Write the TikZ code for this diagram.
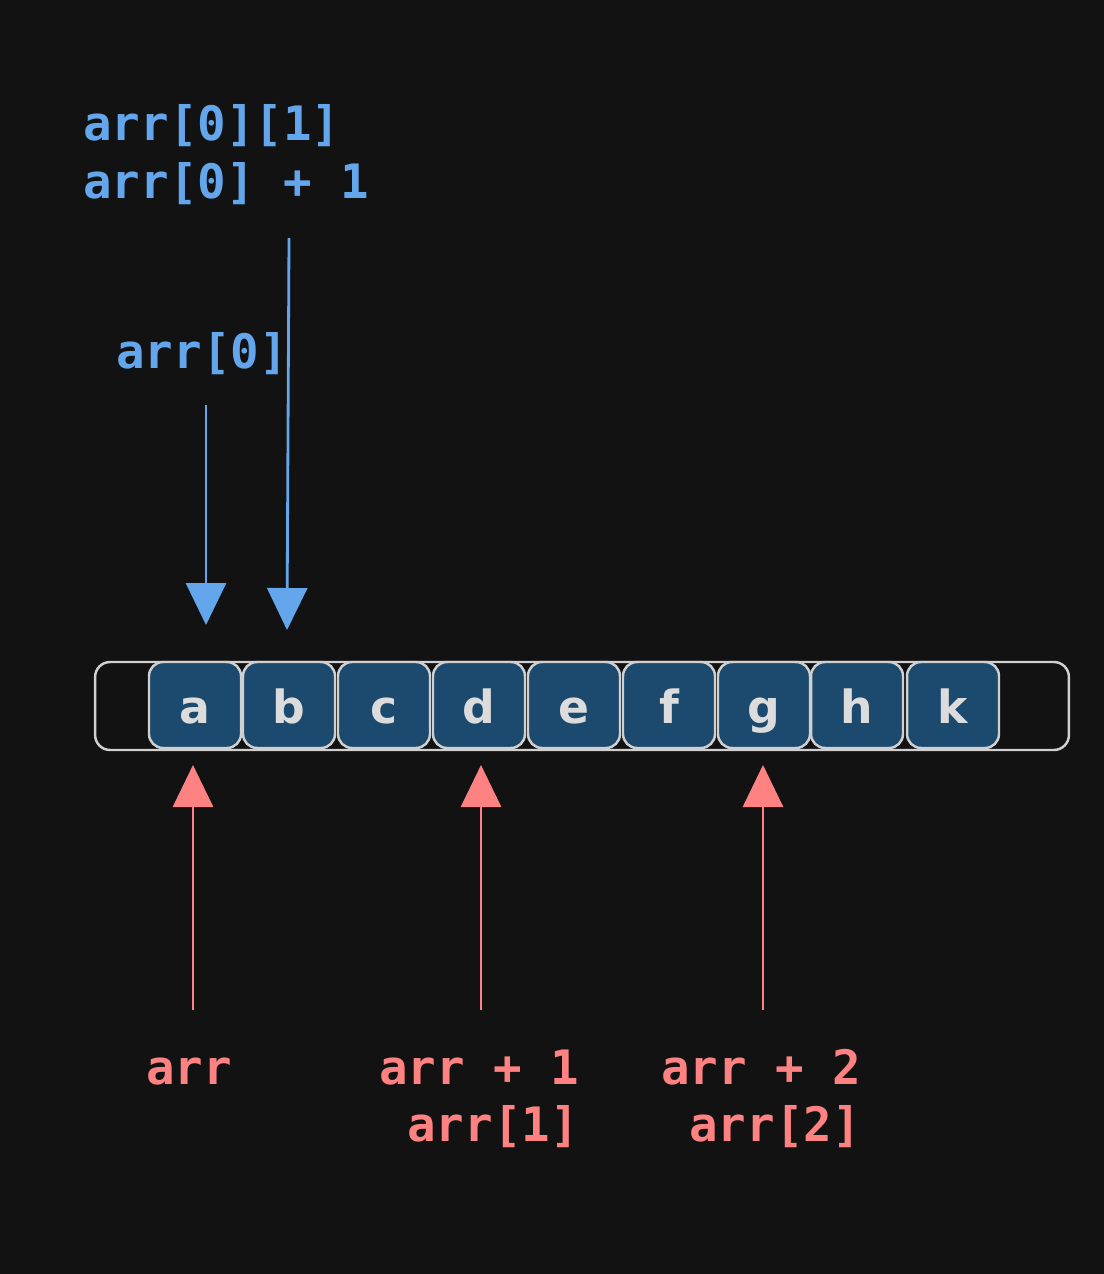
\documentclass[tikz,border=0pt]{standalone}
\usepackage{fontspec}
\setmonofont{DejaVu Sans Mono}
\newfontfamily\cellfont{DejaVu Sans}
\usepackage{tikz}
\usetikzlibrary{arrows.meta}

\definecolor{bgc}{RGB}{18,18,18}
\definecolor{ptrblue}{RGB}{100,166,236}
\definecolor{ptrred}{RGB}{255,130,130}
\definecolor{cellfill}{RGB}{27,74,110}
\definecolor{cellline}{RGB}{208,208,208}
\definecolor{celltext}{RGB}{220,220,220}

\tikzset{
  cell/.style={draw=cellline, line width=1.4pt, fill=cellfill, rounded corners=0.28cm,
    minimum width=1.84cm, minimum height=1.72cm, inner sep=0pt,
    text height=0.72cm, text depth=0cm,
    text=celltext, font=\cellfont\bfseries\fontsize{26}{26}\selectfont},
  strip/.style={draw=cellline, line width=1.4pt, rounded corners=0.3cm,
    minimum width=19.48cm, minimum height=1.76cm, inner sep=0pt},
  code/.style={inner sep=0pt, font=\ttfamily\bfseries\fontsize{27}{32}\selectfont},
  bluelbl/.style={code, text=ptrblue, anchor=base west},
  redlbl/.style={code, text=ptrred, anchor=base west},
  bluearr/.style={color=ptrblue, line width=1.6pt, -{Triangle[length=0.84cm,width=0.8cm]}},
  redarr/.style={color=ptrred, line width=1.6pt, -{Triangle[length=0.84cm,width=0.8cm]}},
}

\begin{document}
\begin{tikzpicture}[x=0.02cm, y=-0.02cm]
        \fill[bgc] (0,0) rectangle (1104,1274);
        \useasboundingbox (0,0) rectangle (1104,1274);

        % the array in memory
        \node[strip] (strip) at (582,706) {};
        \foreach \l/\x in {a/195,b/289,c/384,d/479,e/574,f/669,g/764,h/857,k/953}
          \node[cell] (c\l) at (\x,705) {\l};

        % labels above
        \node[bluelbl] (l01a) at (83,140) {arr[0][1]};
        \node[bluelbl] (l01b) at (83,198) {arr[0] + 1};
        \node[bluelbl] (l0) at (116,368) {arr[0]};

        % labels below
        \node[redlbl] (lr0) at (146,1084) {arr};
        \node[redlbl] (lr1a) at (379,1084) {arr + 1};
        \node[redlbl] (lr1b) at (407,1141) {arr[1]};
        \node[redlbl] (lr2a) at (661,1084) {arr + 2};
        \node[redlbl] (lr2b) at (689,1141) {arr[2]};

        % arrow ends
        \coordinate (t0) at (206,405);  \coordinate (h0) at (206,625);
        \coordinate (t01) at (289,238); \coordinate (h01) at (287,630);
        \coordinate (s0) at (193,1010); \coordinate (e0) at (193,765);
        \coordinate (s1) at (481,1010); \coordinate (e1) at (481,765);
        \coordinate (s2) at (763,1010); \coordinate (e2) at (763,765);

        \draw[bluearr] (t0) -- (h0);
        \draw[bluearr] (t01) -- (h01);
        \draw[redarr] (s0) -- (e0);
        \draw[redarr] (s1) -- (e1);
        \draw[redarr] (s2) -- (e2);
      \end{tikzpicture}
\end{document}
